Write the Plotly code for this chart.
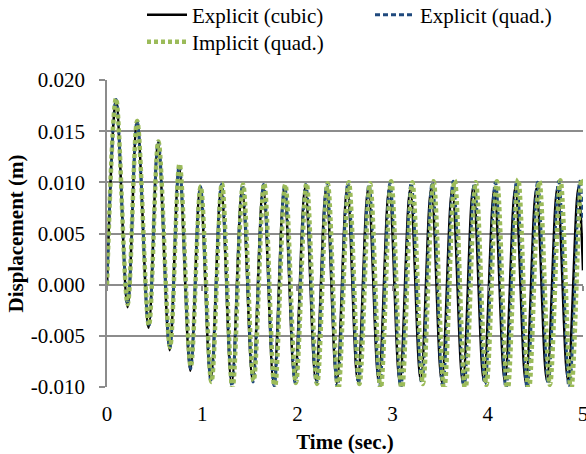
import plotly.graph_objects as go

# Start and end of the record (s)
t_start, t_end = 0.0, 5.0
d_start = 0.0

# Explicit (cubic): crest / trough times (s) and displacements (m)
cubic_peak_t = [0.095, 0.316, 0.536, 0.757, 0.978, 1.199, 1.419, 1.640, 1.861, 2.081, 2.302, 2.523,
                2.743, 2.964, 3.185, 3.406, 3.626, 3.847, 4.068, 4.288, 4.509, 4.730, 4.950]
cubic_peak_d = [0.0180, 0.0161, 0.0139, 0.0116, 0.0095, 0.0095, 0.0094, 0.0096, 0.0094, 0.0095, 0.0094, 0.0095,
                0.0094, 0.0095, 0.0094, 0.0095, 0.0094, 0.0096, 0.0094, 0.0095, 0.0094, 0.0095, 0.0095]
cubic_trough_t = [0.216, 0.437, 0.658, 0.875, 1.089, 1.309, 1.530, 1.751, 1.971, 2.192, 2.413,
                  2.633, 2.854, 3.075, 3.295, 3.516, 3.737, 3.957, 4.178, 4.399, 4.620, 4.840]
cubic_trough_d = [-0.0022, -0.0042, -0.0064, -0.0084, -0.0094, -0.0097, -0.0094, -0.0096, -0.0094, -0.0093, -0.0096,
                  -0.0094, -0.0095, -0.0096, -0.0094, -0.0095, -0.0096, -0.0094, -0.0095, -0.0096, -0.0094, -0.0093]
cubic_end_d = 0.0014

# Explicit (quad.)
eq_peak_t = [0.095, 0.316, 0.538, 0.759, 0.981, 1.202, 1.423, 1.645, 1.866, 2.088, 2.309, 2.530,
             2.752, 2.973, 3.195, 3.416, 3.637, 3.859, 4.080, 4.302, 4.523, 4.744, 4.966]
eq_peak_d = [0.0181, 0.0160, 0.0140, 0.0117, 0.0096, 0.0098, 0.0097, 0.0098, 0.0097, 0.0098, 0.0098, 0.0099,
             0.0098, 0.0099, 0.0099, 0.0100, 0.0101, 0.0099, 0.0100, 0.0101, 0.0100, 0.0101, 0.0101]
eq_trough_t = [0.217, 0.438, 0.660, 0.878, 1.093, 1.313, 1.535, 1.756, 1.977, 2.199, 2.420,
               2.642, 2.863, 3.085, 3.306, 3.527, 3.749, 3.970, 4.191, 4.413, 4.634, 4.855]
eq_trough_d = [-0.0020, -0.0041, -0.0062, -0.0082, -0.0095, -0.0099, -0.0095, -0.0099, -0.0096, -0.0096, -0.0100,
               -0.0096, -0.0099, -0.0101, -0.0096, -0.0100, -0.0101, -0.0097, -0.0101, -0.0101, -0.0097, -0.0101]
eq_end_d = 0.0062

# Implicit (quad.)
iq_peak_t = [0.095, 0.317, 0.540, 0.762, 0.984, 1.207, 1.429, 1.651, 1.873, 2.096, 2.318, 2.540,
             2.763, 2.985, 3.207, 3.430, 3.652, 3.874, 4.096, 4.319, 4.541, 4.763, 4.985]
iq_peak_d = [0.0182, 0.0160, 0.0140, 0.0118, 0.0096, 0.0099, 0.0098, 0.0099, 0.0098, 0.0099, 0.0099, 0.0100,
             0.0099, 0.0101, 0.0100, 0.0101, 0.0102, 0.0100, 0.0101, 0.0103, 0.0101, 0.0102, 0.0103]
iq_trough_t = [0.217, 0.440, 0.662, 0.880, 1.097, 1.318, 1.540, 1.762, 1.984, 2.207, 2.429,
               2.651, 2.874, 3.096, 3.318, 3.541, 3.763, 3.985, 4.207, 4.430, 4.652, 4.874]
iq_trough_d = [-0.0019, -0.0040, -0.0061, -0.0080, -0.0095, -0.0101, -0.0094, -0.0102, -0.0096, -0.0097, -0.0103,
               -0.0097, -0.0102, -0.0104, -0.0097, -0.0103, -0.0104, -0.0098, -0.0104, -0.0104, -0.0098, -0.0104]
iq_end_d = 0.0098

y_ticks = [-0.010, -0.005, 0.000, 0.005, 0.010, 0.015, 0.020]
y_tick_text = ["-0.010", "-0.005", "0.000", "0.005", "0.010", "0.015", "0.020"]
x_ticks = [0, 1, 2, 3, 4, 5]
x_tick_text = ["0", "1", "2", "3", "4", "5"]

FONT = "Liberation Serif, Times New Roman, serif"
GRID = "#8c8c8c"
W, H = 586, 454


def history(peak_t, peak_d, trough_t, trough_d, end_d):
    """Alternate crests and troughs into one time history."""
    t, d = [t_start], [d_start]
    for i, (pt, pd) in enumerate(zip(peak_t, peak_d)):
        t.append(pt)
        d.append(pd)
        if i < len(trough_t):
            t.append(trough_t[i])
            d.append(trough_d[i])
    t.append(t_end)
    d.append(end_d)
    return t, d


series = [
    ("Explicit (cubic)", history(cubic_peak_t, cubic_peak_d, cubic_trough_t, cubic_trough_d, cubic_end_d),
     dict(color="#000000", width=2.5, dash="solid"), "legend"),
    ("Explicit (quad.)", history(eq_peak_t, eq_peak_d, eq_trough_t, eq_trough_d, eq_end_d),
     dict(color="#1F497D", width=3, dash="5px,3px"), "legend3"),
    ("Implicit (quad.)", history(iq_peak_t, iq_peak_d, iq_trough_t, iq_trough_d, iq_end_d),
     dict(color="#9BBB59", width=4.5, dash="4px,3px"), "legend2"),
]

fig = go.Figure()
for name, (t, d), line, leg in series:
    fig.add_trace(go.Scatter(x=t, y=d, mode="lines", name=name, legend=leg,
                             line=dict(shape="spline", smoothing=1, **line)))

# empty trace that brings the zero-line tick axis into being
fig.add_trace(go.Scatter(x=[], y=[], xaxis="x2", yaxis="y", showlegend=False, hoverinfo="skip"))

txt = dict(family=FONT, size=21, color="black")
legend_common = dict(orientation="h", xref="container", yref="container",
                     xanchor="left", yanchor="middle",
                     itemwidth=40, font=txt, bgcolor="rgba(0,0,0,0)", borderwidth=0)

fig.update_layout(
    width=W, height=H,
    margin=dict(l=107, r=3, t=80, b=67, autoexpand=False),
    paper_bgcolor="white", plot_bgcolor="white",
    font=txt,
    showlegend=True,
    legend=dict(x=142 / W, y=1 - 15 / H, **legend_common),
    legend3=dict(x=370 / W, y=1 - 15 / H, **legend_common),
    legend2=dict(x=142 / W, y=1 - 42 / H, **legend_common),
    # bottom axis carrying labels and title
    xaxis=dict(range=[0, 5], tickvals=x_ticks, ticktext=x_tick_text,
               ticks="", showgrid=False, showline=False, zeroline=False,
               tickfont=txt, ticklabelstandoff=12, ticklabeloverflow="allow",
               title=dict(text="<b>Time (sec.)</b>", font=txt, standoff=10)),
    # axis along the zero line, carrying only tick marks
    xaxis2=dict(range=[0, 5], tickvals=x_ticks, overlaying="x", anchor="free", position=1 / 3,
                ticks="outside", ticklen=5, tickwidth=1.5, tickcolor=GRID,
                showticklabels=False, showgrid=False, showline=False, zeroline=False),
    yaxis=dict(range=[-0.0100001, 0.0200001], tickvals=y_ticks, ticktext=y_tick_text,
               ticks="outside", ticklen=6, tickwidth=1.5, tickcolor=GRID,
               showgrid=True, gridcolor=GRID, gridwidth=1.5,
               showline=True, linecolor=GRID, linewidth=1.5,
               zeroline=True, zerolinecolor=GRID, zerolinewidth=1.5,
               tickfont=txt, ticklabelstandoff=10,
               title=dict(text="<b>Displacement (m)</b>", font=txt, standoff=1)),
)

fig.write_html("out.html")
